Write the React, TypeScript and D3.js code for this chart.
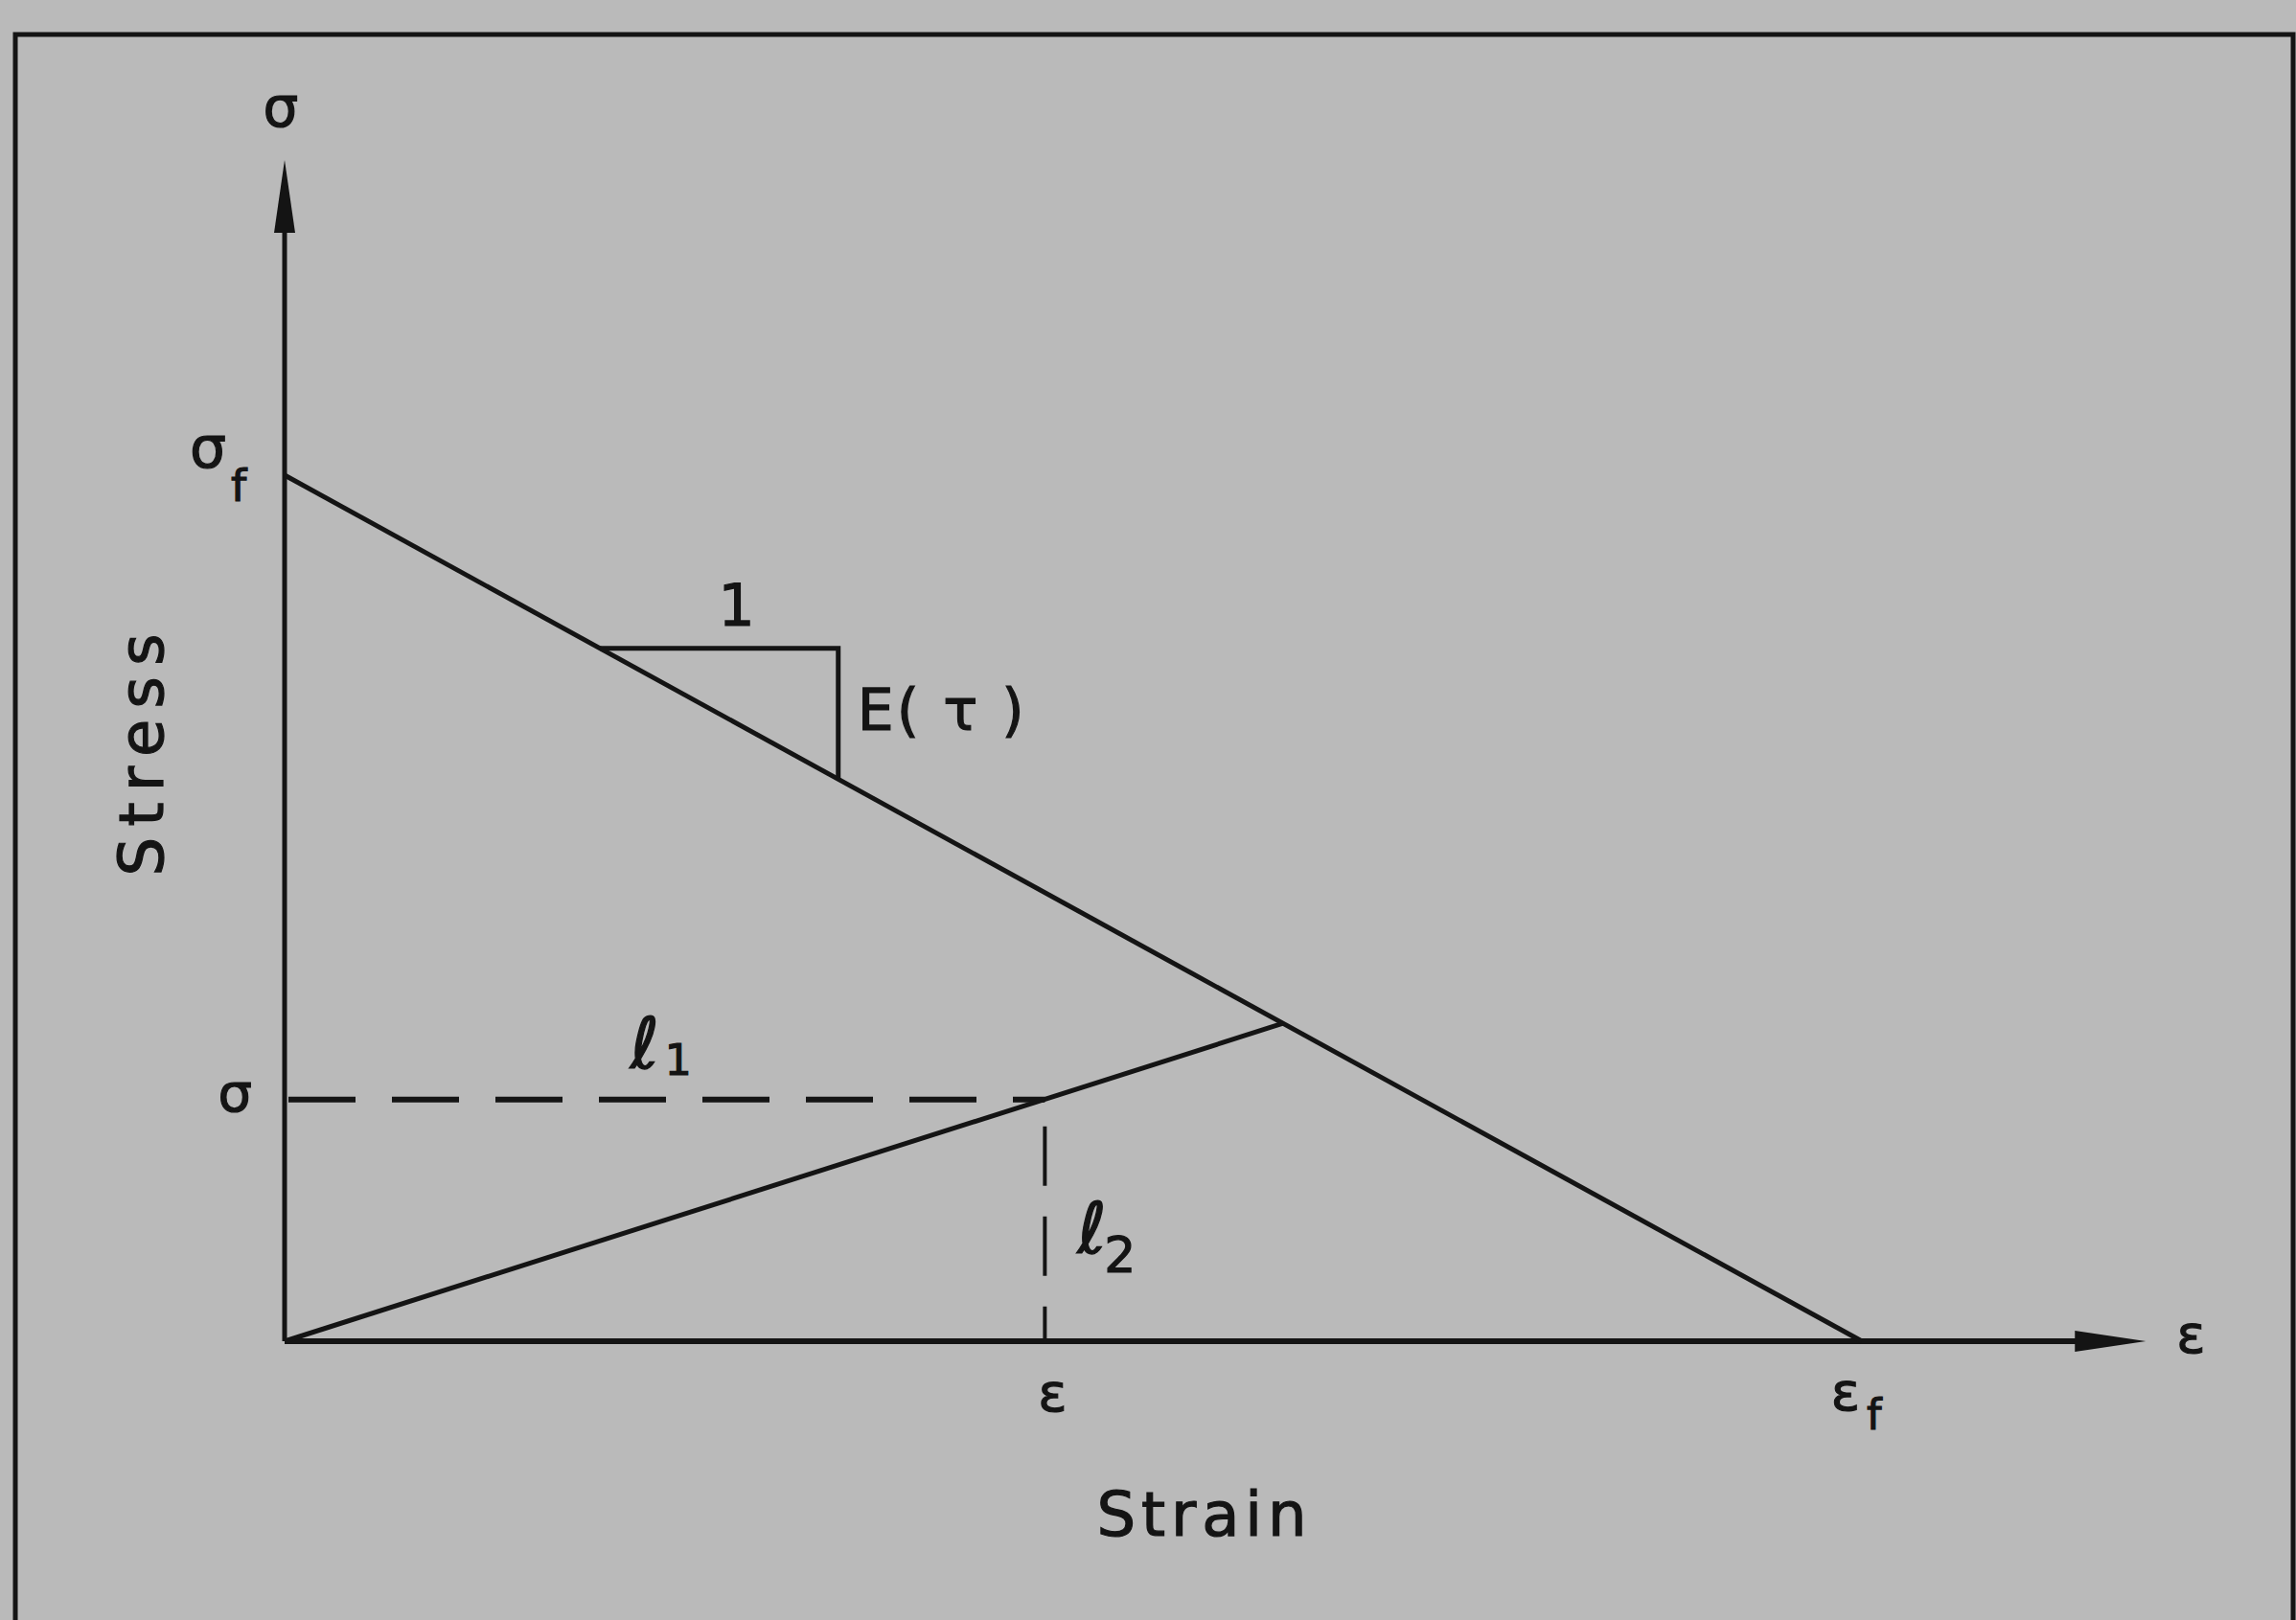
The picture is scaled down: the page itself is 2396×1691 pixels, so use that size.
import React from "react";
import * as d3 from "d3";

// stress-strain values, normalised so that failure strain and failure stress are 1
const envelopeStrain = [0, 1];
const envelopeStress = [1, 0];
const loadingStrain = [0, 0.633];
const loadingStress = [0, 0.367];
const currentStrain = 0.482;
const currentStress = 0.279;
const slopeStrain = [0.2, 0.351];
const axisMax = { strain: 1.18, stress: 1.364 };

const W = 2396;
const H = 1691;
const INK = "#141414";
const FONT = "'DejaVu Sans', sans-serif";

export default function App() {
  const x = d3.scaleLinear().domain([0, 1]).range([297, 1943]);
  const y = d3.scaleLinear().domain([0, 1]).range([1400, 496]);

  const line = d3
    .line<[number, number]>()
    .x((d) => x(d[0]))
    .y((d) => y(d[1]));

  const envelope = envelopeStrain.map((s, i) => [s, envelopeStress[i]] as [number, number]);
  const loading = loadingStrain.map((s, i) => [s, loadingStress[i]] as [number, number]);

  // slope triangle sits on the envelope
  const envAt = (s: number) => 1 - s;
  const tri: [number, number][] = [
    [slopeStrain[0], envAt(slopeStrain[0])],
    [slopeStrain[1], envAt(slopeStrain[0])],
    [slopeStrain[1], envAt(slopeStrain[1])],
  ];

  const x0 = x(0);
  const y0 = y(0);
  const xTip = x(axisMax.strain);
  const yTip = y(axisMax.stress);

  const xArrow = `M${xTip},${y0} L${xTip - 74},${y0 - 11} L${xTip - 74},${y0 + 11} Z`;
  const yArrow = `M${x0},${yTip} L${x0 - 11},${yTip + 76} L${x0 + 11},${yTip + 76} Z`;

  const tx = {
    fontFamily: FONT,
    fill: INK,
    stroke: INK,
    strokeWidth: 1.2,
  } as React.CSSProperties;

  return (
    <svg
      width={W}
      height={H}
      style={{ position: "absolute", left: 0, top: 0, background: "#bababa" }}
    >
      <rect x={0} y={0} width={W} height={H} fill="#bababa" />
      {/* frame */}
      <path
        d={`M16,${H} L16,36 L2393,36 L2393,${H}`}
        fill="none"
        stroke={INK}
        strokeWidth={5}
      />

      {/* axes */}
      <line x1={x0} y1={y0} x2={xTip - 60} y2={y0} stroke={INK} strokeWidth={6} />
      <line x1={x0} y1={y0} x2={x0} y2={yTip + 60} stroke={INK} strokeWidth={5} />
      <path d={xArrow} fill={INK} />
      <path d={yArrow} fill={INK} />

      {/* envelope and loading path */}
      <path d={line(envelope) ?? ""} fill="none" stroke={INK} strokeWidth={5} />
      <path d={line(loading) ?? ""} fill="none" stroke={INK} strokeWidth={5} />
      <path d={line(tri) ?? ""} fill="none" stroke={INK} strokeWidth={5} />

      {/* dashed projections */}
      <line
        x1={x0}
        y1={y(currentStress)}
        x2={x(currentStrain)}
        y2={y(currentStress)}
        stroke={INK}
        strokeWidth={6}
        strokeDasharray="70 38"
        strokeDashoffset={-4}
      />
      <line
        x1={x(currentStrain)}
        y1={y(currentStress)}
        x2={x(currentStrain)}
        y2={y0}
        stroke={INK}
        strokeWidth={4}
        strokeDasharray="62 32"
        strokeDashoffset={-28}
      />

      {/* labels */}
      <text x={x0 - 4} y={yTip - 35} textAnchor="middle" fontSize={58} style={tx}>
        σ
      </text>
      <text x={x0 - 99} y={y(1) - 8} fontSize={60} style={tx}>
        σ
      </text>
      <text x={x0 - 56} y={y(1) + 27} fontSize={46} style={tx}>
        f
      </text>
      <text x={x0 - 34} y={y(currentStress) + 12} textAnchor="end" fontSize={56} style={tx}>
        σ
      </text>
      <text x={x(currentStrain) + 8} y={y0 + 73} textAnchor="middle" fontSize={56} style={tx}>
        ε
      </text>
      <text x={x(1) - 17} y={y0 + 72} textAnchor="middle" fontSize={56} style={tx}>
        ε
      </text>
      <text x={x(1) + 5} y={y0 + 92} fontSize={44} style={tx}>
        f
      </text>
      <text x={xTip + 47} y={y0 + 12} textAnchor="middle" fontSize={56} style={tx}>
        ε
      </text>

      <text
        x={(x(slopeStrain[0]) + x(slopeStrain[1])) / 2 + 18}
        y={y(envAt(slopeStrain[0])) - 24}
        textAnchor="middle"
        fontSize={60}
        style={tx}
      >
        1
      </text>
      <text
        x={x(slopeStrain[1]) + 20}
        y={y(envAt(slopeStrain[0])) + 85}
        fontSize={60}
        textLength={174}
        lengthAdjust="spacing"
        style={tx}
      >
        E( τ )
      </text>

      <text x={x(0.219)} y={y(currentStress) - 33} fontSize={74} fontStyle="italic" style={tx}>
        ℓ
      </text>
      <text x={x(0.241)} y={y(currentStress) - 26} fontSize={44} style={tx}>
        1
      </text>
      <text x={x(currentStrain) + 34} y={y(currentStress) + 160} fontSize={74} fontStyle="italic" style={tx}>
        ℓ
      </text>
      <text x={x(currentStrain) + 62} y={y(currentStress) + 180} fontSize={52} style={tx}>
        2
      </text>

      <text
        transform={`translate(170, ${(y(0) + y(1)) / 2 - 160}) rotate(-90)`}
        textAnchor="middle"
        fontSize={64}
        textLength={253}
        lengthAdjust="spacing"
        style={tx}
      >
        Stress
      </text>
      <text
        x={1254}
        y={1603}
        textAnchor="middle"
        fontSize={64}
        textLength={219}
        lengthAdjust="spacing"
        style={tx}
      >
        Strain
      </text>
    </svg>
  );
}
